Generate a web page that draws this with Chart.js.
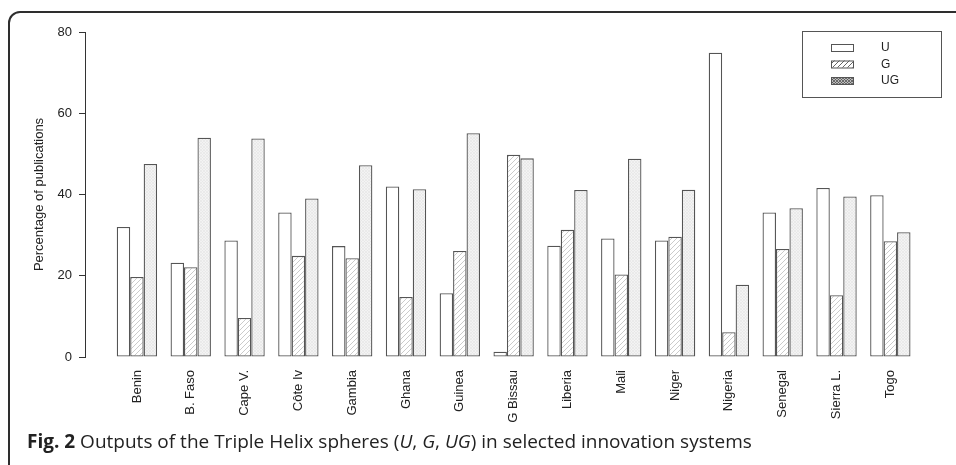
<!DOCTYPE html>
<html>
<head>
<meta charset="utf-8">
<script src="https://cdn.jsdelivr.net/npm/chart.js@4.4.1/dist/chart.umd.min.js"></script>
<style>
  html, body { margin: 0; padding: 0; background: #fff; }
  body { width: 956px; height: 465px; position: relative; overflow: hidden; }
  .frame {
    position: absolute; left: 8px; top: 11px; width: 1000px; height: 1000px;
    border: 2px solid #2e2e2e; border-radius: 12px; box-sizing: border-box;
  }
  .chart-wrap { position: absolute; left: 0; top: 0; width: 956px; height: 430px; }
  .caption {
    position: absolute; left: 27px; top: 428px; white-space: nowrap;
    font-family: "Open Sans", sans-serif; font-size: 19px; color: #222;
  }
  .caption b { font-weight: 700; }
</style>
</head>
<body>
<div class="frame"></div>
<div class="chart-wrap"><canvas id="barChart"></canvas></div>
<div class="caption"><b>Fig. 2</b> Outputs of the Triple Helix spheres (<i>U</i>, <i>G</i>, <i>UG</i>) in selected innovation systems</div>
<script>
const countries = ["Benin", "B. Faso", "Cape V.", "Côte Iv", "Gambia", "Ghana", "Guinea", "G Bissau",
  "Liberia", "Mali", "Niger", "Nigeria", "Senegal", "Sierra L.", "Togo"];
const seriesLabels = ["U", "G", "UG"];
const uValues = [32.0, 23.2, 28.7, 35.6, 27.3, 42.0, 15.7, 1.3, 27.4, 29.2, 28.7, 74.9, 35.6, 41.6, 39.8];
const gValues = [19.7, 22.1, 9.6, 24.9, 24.3, 14.8, 26.1, 49.8, 31.3, 20.3, 29.6, 6.1, 26.6, 15.2, 28.5];
const ugValues = [47.5, 54.0, 53.8, 39.0, 47.2, 41.3, 55.1, 48.9, 41.1, 48.8, 41.2, 17.8, 36.6, 39.5, 30.7];
const yTicks = [0, 20, 40, 60, 80];

const FONT = "'Liberation Sans', Arial, sans-serif";
const EDGE = "#555";

function makePattern(size, bg, fg, width, cross) {
  const c = document.createElement("canvas");
  c.width = size;
  c.height = size;
  const g = c.getContext("2d");
  g.fillStyle = bg;
  g.fillRect(0, 0, size, size);
  g.strokeStyle = fg;
  g.lineWidth = width;
  g.beginPath();
  g.moveTo(-1, size + 1); g.lineTo(size + 1, -1);
  g.moveTo(-1, 1); g.lineTo(1, -1);
  g.moveTo(size - 1, size + 1); g.lineTo(size + 1, size - 1);
  if (cross) {
    g.moveTo(-1, -1); g.lineTo(size + 1, size + 1);
  }
  g.stroke();
  return g.createPattern(c, "repeat");
}

const ctx = document.getElementById("barChart").getContext("2d");
const fills = [
  "#ffffff",
  makePattern(5, "#ffffff", "#b4b4b4", 0.7, false),
  makePattern(3, "#f3f3f3", "#e4e4e4", 0.6, true),
];
const legendFills = [
  "#ffffff",
  makePattern(5, "#ffffff", "#666", 1, false),
  makePattern(3, "#bbbbbb", "#555", 0.8, true),
];

const boxLegend = {
  id: "boxLegend",
  afterDraw(chart) {
    const c = chart.ctx;
    c.save();
    c.strokeStyle = EDGE;
    c.lineWidth = 1;
    c.strokeRect(802.5, 31.5, 139, 66);
    c.font = "12px " + FONT;
    c.textBaseline = "middle";
    chart.data.datasets.forEach((ds, i) => {
      const y = 44 + i * 16.5;
      c.fillStyle = legendFills[i];
      c.fillRect(831, y, 23, 7);
      c.strokeRect(831.5, y + 0.5, 22, 7);
      c.fillStyle = "#222";
      c.fillText(ds.label, 881, y + 4);
    });
    c.restore();
  },
};

function toPoints(values) {
  return values.map((v, i) => ({ x: i, y: v }));
}

const seriesValues = [uValues, gValues, ugValues];

new Chart(ctx, {
  type: "bar",
  data: {
    datasets: seriesLabels.map((label, i) => ({
      label,
      data: toPoints(seriesValues[i]),
      backgroundColor: fills[i],
      borderColor: EDGE,
      borderWidth: 1.3,
      borderSkipped: false,
      categoryPercentage: 0.75,
      barPercentage: 1,
    })),
  },
  plugins: [boxLegend],
  options: {
    responsive: true,
    maintainAspectRatio: false,
    animation: false,
    layout: { padding: { top: 32, right: 14, left: 0, bottom: 0 } },
    plugins: {
      legend: { display: false },
      tooltip: { enabled: false },
    },
    scales: {
      x: {
        type: "linear",
        offset: false,
        bounds: "data",
        min: -0.965,
        max: 14.96,
        afterBuildTicks(scale) {
          scale.ticks = countries.map((_, i) => ({ value: i }));
        },
        afterFit(scale) {
          scale.height = 73;
        },
        border: { display: false },
        grid: { display: false, drawTicks: false },
        ticks: {
          autoSkip: false,
          minRotation: 90,
          maxRotation: 90,
          padding: 13,
          color: "#222",
          font: { family: FONT, size: 13 },
          callback: (v) => countries[v],
        },
      },
      y: {
        min: 0,
        max: 80,
        afterBuildTicks(scale) {
          scale.ticks = yTicks.map((v) => ({ value: v }));
        },
        afterFit(scale) {
          scale.width = 85;
        },
        border: { display: true, color: "#333", width: 1 },
        grid: { drawOnChartArea: false, color: "#333", tickLength: 6 },
        ticks: {
          padding: 7,
          color: "#222",
          font: { family: FONT, size: 13 },
        },
        title: {
          display: true,
          text: "Percentage of publications",
          color: "#222",
          font: { family: FONT, size: 13 },
          padding: { top: 32, bottom: 0 },
        },
      },
    },
  },
});
</script>
</body>
</html>
